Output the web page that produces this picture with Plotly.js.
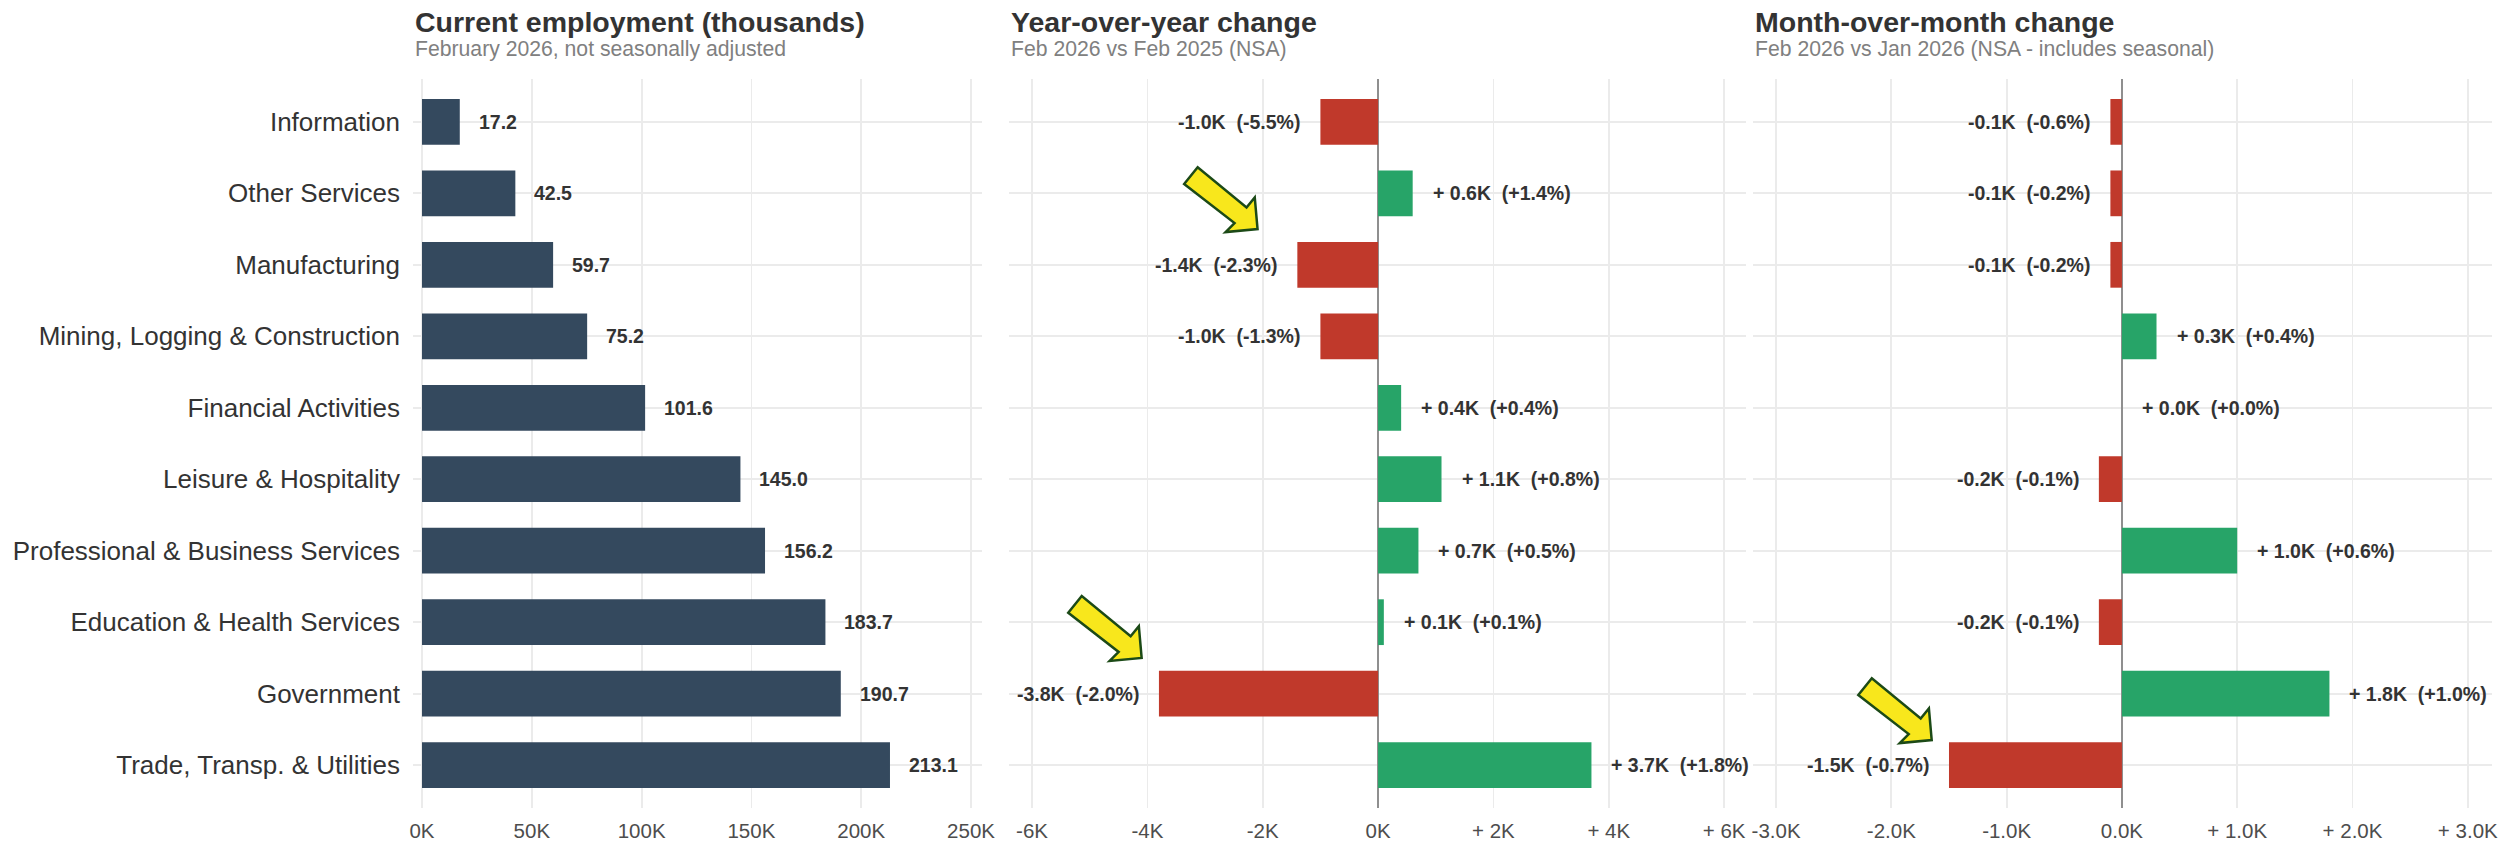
<!DOCTYPE html>
<html>
<head>
<meta charset="utf-8">
<script src="https://cdn.plot.ly/plotly-3.0.1.min.js"></script>
<style>html,body{margin:0;padding:0;background:#fff;}#chart{width:2506px;height:841px;}</style>
</head>
<body>
<div id="chart"></div>
<script>
// ---- data (top-to-bottom order) ----
const categories = ["Information","Other Services","Manufacturing","Mining, Logging & Construction","Financial Activities","Leisure & Hospitality","Professional & Business Services","Education & Health Services","Government","Trade, Transp. & Utilities"];
const employment = [17.2, 42.5, 59.7, 75.2, 101.6, 145.0, 156.2, 183.7, 190.7, 213.1];
const yoyChange = [-1.0, 0.6, -1.4, -1.0, 0.4, 1.1, 0.7, 0.1, -3.8, 3.7];
const yoyPct = [-5.5, 1.4, -2.3, -1.3, 0.4, 0.8, 0.5, 0.1, -2.0, 1.8];
const momChange = [-0.1, -0.1, -0.1, 0.3, 0.0, -0.2, 1.0, -0.2, 1.8, -1.5];
const momPct = [-0.6, -0.2, -0.2, 0.4, 0.0, -0.1, 0.6, -0.1, 1.0, -0.7];

const empTicks = [0, 50, 100, 150, 200, 250];
const empTickText = ["0K","50K","100K","150K","200K","250K"];
const yoyTicks = [-6, -4, -2, 0, 2, 4, 6];
const yoyTickText = ["-6K","-4K","-2K","0K","+ 2K","+ 4K","+ 6K"];
const momTicks = [-3, -2, -1, 0, 1, 2, 3];
const momTickText = ["-3.0K","-2.0K","-1.0K","0.0K","+ 1.0K","+ 2.0K","+ 3.0K"];

// highlight arrows: [xaxis, x value, category position]
const arrows = [["x2", -2.09, 1.5], ["x2", -4.1, 7.5], ["x3", -1.65, 8.65]];

// ---- style ----
const FONT = "Liberation Sans, Arial, sans-serif";
const NAVY = "#34495E", RED = "#C0392B", GREEN = "#27A468";
const GRID = "#EBEBEB";
const W = 2506, H = 841;
const plotTop = 79, plotBottom = 808;
const NB = "\u00a0";

function fmtK(v){ return (v >= 0 ? "+ " : "-") + Math.abs(v).toFixed(1) + "K"; }
function fmtP(p){ return "(" + (p >= 0 ? "+" : "-") + Math.abs(p).toFixed(1) + "%)"; }

const traces = [
  {type:"bar", orientation:"h", x: employment, y: categories, xaxis:"x", yaxis:"y",
   marker:{color: NAVY}, width: 0.64, hoverinfo:"none"},
  {type:"bar", orientation:"h", x: yoyChange, y: categories, xaxis:"x2", yaxis:"y2",
   marker:{color: yoyChange.map(v => v < 0 ? RED : GREEN)}, width: 0.64, hoverinfo:"none"},
  {type:"bar", orientation:"h", x: momChange, y: categories, xaxis:"x3", yaxis:"y3",
   marker:{color: momChange.map(v => v < 0 ? RED : GREEN)}, width: 0.64, hoverinfo:"none"}
];

const annotations = [];
const labelFont = {family: FONT, size: 19.5, color: "#333333", weight: "bold"};
employment.forEach((v, i) => annotations.push({
  xref:"x", yref:"y", x: v, y: categories[i], text: "<b>" + v.toFixed(1) + "</b>",
  showarrow:false, xanchor:"left", yanchor:"middle", xshift: 17, font: labelFont
}));
yoyChange.forEach((v, i) => annotations.push({
  xref:"x2", yref:"y2", x: v, y: categories[i],
  text: "<b>" + fmtK(v) + NB + NB + fmtP(yoyPct[i]) + "</b>",
  showarrow:false, xanchor: v < 0 ? "right" : "left", yanchor:"middle", xshift: v < 0 ? -18 : 18, font: labelFont
}));
momChange.forEach((v, i) => annotations.push({
  xref:"x3", yref:"y3", x: v, y: categories[i],
  text: "<b>" + fmtK(v) + NB + NB + fmtP(momPct[i]) + "</b>",
  showarrow:false, xanchor: v < 0 ? "right" : "left", yanchor:"middle", xshift: v < 0 ? -18 : 18, font: labelFont
}));

const titles = [
  [413, "Current employment (thousands)", "February 2026, not seasonally adjusted"],
  [1009, "Year-over-year change", "Feb 2026 vs Feb 2025 (NSA)"],
  [1753, "Month-over-month change", "Feb 2026 vs Jan 2026 (NSA - includes seasonal)"]
];
titles.forEach(t => {
  annotations.push({xref:"paper", yref:"paper", x: t[0]/W, y: 1 - 22/H, xanchor:"left", yanchor:"middle",
    text:"<b>" + t[1] + "</b>", showarrow:false, font:{family: FONT, size: 28.5, color:"#333333"}});
  annotations.push({xref:"paper", yref:"paper", x: t[0]/W, y: 1 - 49/H, xanchor:"left", yanchor:"middle",
    text: t[2], showarrow:false, font:{family: FONT, size: 21.2, color:"#808080"}});
});

const arrowPath = "M0,0 L-2.8,31.7 L-11,21.6 L-59.9,61.9 L-73.4,45.1 L-23,6 L-32,-3 Z";
const shapes = arrows.map(a => ({
  type:"path", xref: a[0], yref: a[0] === "x2" ? "y2" : "y3",
  xsizemode:"pixel", ysizemode:"pixel", xanchor: a[1], yanchor: a[2],
  path: arrowPath, fillcolor:"#F8E71C", line:{color:"#1C4A17", width:2.5}, layer:"above"
}));

const yDom = [1 - plotBottom/H, 1 - plotTop/H];
function xax(dom, range, tv, tt, zero){
  return {domain:[dom[0]/W, dom[1]/W], range: range, tickmode:"array", tickvals: tv, ticktext: tt,
    showgrid:true, gridcolor: GRID, gridwidth: 1.8, zeroline: zero, zerolinecolor:"#8F8F8F", zerolinewidth: 1.6,
    showline:false, ticks:"", ticklabelstandoff: 8, fixedrange:true,
    tickfont:{family: FONT, size: 20.5, color:"#4D4D4D"}};
}
function yax(anchor, showLabels){
  return {domain: yDom, anchor: anchor, type:"category", categoryorder:"array", categoryarray: categories,
    range:[9.6, -0.6], showgrid:true, gridcolor: GRID, gridwidth: 1.8, zeroline:false, showline:false,
    ticks:"", showticklabels: showLabels, ticklabelstandoff: 12, fixedrange:true,
    tickfont:{family: FONT, size: 26, color:"#333333"}};
}

const layout = {
  width: W, height: H, margin:{l:0, r:0, t:0, b:0}, paper_bgcolor:"#fff", plot_bgcolor:"#fff",
  showlegend:false, bargap: 0.36, font:{family: FONT},
  xaxis: xax([413, 982], [-4.1, 255], empTicks, empTickText, false),
  xaxis2: xax([1009, 1746], [-6.4, 6.38], yoyTicks, yoyTickText, true),
  xaxis3: xax([1753, 2492], [-3.2, 3.21], momTicks, momTickText, true),
  yaxis: yax("x", true),
  yaxis2: yax("x2", false),
  yaxis3: yax("x3", false),
  annotations: annotations, shapes: shapes
};

Plotly.newPlot("chart", traces, layout, {staticPlot:true, displayModeBar:false});
</script>
</body>
</html>
